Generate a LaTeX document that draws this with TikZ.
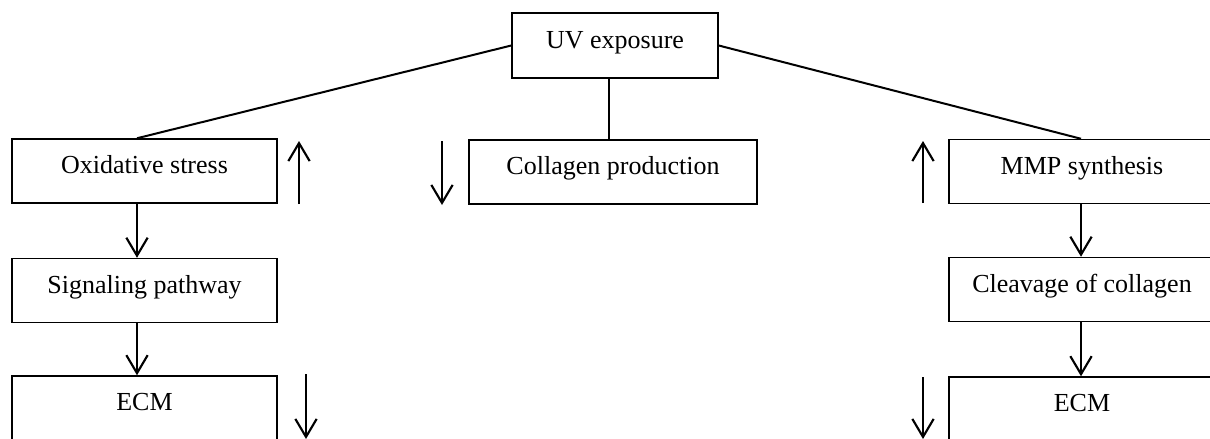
\documentclass[tikz,border=0pt]{standalone}
\usepackage{fontspec}
\setmainfont{Liberation Serif}
\usetikzlibrary{arrows.meta}
\begin{document}
\begin{tikzpicture}[x=0.75pt,y=-0.75pt,
  box/.style={draw,line width=1.1pt,inner sep=0pt,text height=15pt,text depth=11pt,
    minimum height=48pt,font=\fontsize{19.5}{23}\selectfont},
  conn/.style={line width=1.5pt},
  arr/.style={line width=1.6pt,-{Straight Barb[length=13.5pt,width=16pt]}}]
\useasboundingbox (0,0) rectangle (1210,439);
% boxes
\node[box,minimum width=154.5pt,minimum height=48.75pt] (uv) at (615,45.5) {UV exposure};
\node[box,minimum width=198.75pt] (ox) at (144.5,171) {Oxidative stress};
\node[box,minimum width=198.75pt] (sig) at (144.5,290.5) {Signaling pathway};
\node[box,minimum width=198.75pt] (ecml) at (144.5,408) {ECM};
\node[box,minimum width=216pt] (col) at (613,172) {Collagen production};
\node[box,minimum width=199.5pt] (mmp) at (1082,171.5) {MMP synthesis};
\node[box,minimum width=199.5pt] (clv) at (1082,289.5) {Cleavage of collagen};
\node[box,minimum width=199.5pt] (ecmr) at (1082,409) {ECM};
% x positions of the connectors
\coordinate (lx) at (137,0);
\coordinate (cx) at (609,0);
\coordinate (rx) at (1081,0);
% connectors from UV exposure
\draw[conn] (uv.west) -- (ox.north -| lx);
\draw[conn] (uv.south -| cx) -- (col.north -| cx);
\draw[conn] (uv.east) -- (mmp.north -| rx);
% chain arrows
\draw[arr] (ox.south -| lx) -- (sig.north -| lx);
\draw[arr] (sig.south -| lx) -- (ecml.north -| lx);
\draw[arr] (mmp.south -| rx) -- (clv.north -| rx);
\draw[arr] (clv.south -| rx) -- (ecmr.north -| rx);
% up/down indicators
\coordinate (u1a) at (299,204); \coordinate (u1b) at (299,141);
\coordinate (u2a) at (923,203); \coordinate (u2b) at (923,141);
\coordinate (d1a) at (442,141); \coordinate (d1b) at (442,205);
\coordinate (d2a) at (306,374); \coordinate (d2b) at (306,439);
\coordinate (d3a) at (923,377); \coordinate (d3b) at (923,439);
\draw[arr] (u1a) -- (u1b);
\draw[arr] (u2a) -- (u2b);
\draw[arr] (d1a) -- (d1b);
\draw[arr] (d2a) -- (d2b);
\draw[arr] (d3a) -- (d3b);
\end{tikzpicture}
\end{document}
